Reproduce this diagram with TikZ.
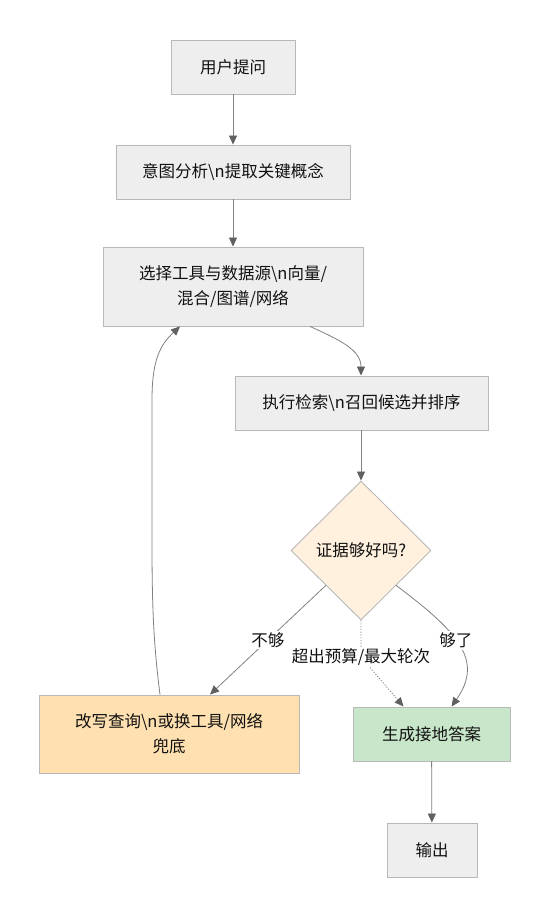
\documentclass[tikz,border=0pt]{standalone}
\usepackage{fontspec}
\setmainfont{Noto Sans CJK SC}
\usetikzlibrary{shapes.geometric,arrows.meta}
\definecolor{boxfill}{HTML}{EEEEEE}
\definecolor{boxline}{HTML}{B8B8B8}
\definecolor{diafill}{HTML}{FFF1DE}
\definecolor{rewritefill}{HTML}{FFE0B0}
\definecolor{answerfill}{HTML}{C8E6C9}
\definecolor{linegray}{HTML}{808080}
\definecolor{tipgray}{HTML}{606060}
\definecolor{txt}{HTML}{111111}
\tikzset{
  stepbox/.style={draw=boxline,fill=boxfill,line width=0.9pt,minimum height=54pt,
    inner sep=0pt,align=center,text=txt,font=\fontsize{16.5}{25}\selectfont},
  decide/.style={diamond,draw=boxline,fill=diafill,line width=0.9pt,minimum width=140pt,
    minimum height=139pt,inner sep=0pt,text=txt,font=\fontsize{16.5}{25}\selectfont},
  flow/.style={draw=linegray,line width=0.8pt,
    -{Triangle[length=9pt,width=8pt,color=tipgray]}},
  lbl/.style={fill=white,inner sep=1.5pt,text=txt,font=\fontsize{16.5}{25}\selectfont}
}
\begin{document}
\begin{tikzpicture}[x=1pt,y=-1pt]
\useasboundingbox (0,0) rectangle (550,917);
%boxes
\node[stepbox,minimum width=124pt] (ask) at (233,67) {用户提问};
\node[stepbox,minimum width=234pt] (intent) at (233,172) {意图分析\textbackslash n提取关键概念};
\node[stepbox,minimum width=260pt,minimum height=79pt] (select) at (233,286.5) {选择工具与数据源\textbackslash n向量/\\混合/图谱/网络};
\node[stepbox,minimum width=253pt] (search) at (361.5,403) {执行检索\textbackslash n召回候选并排序};
\node[decide] (check) at (361,550.5) {证据够好吗?};
\node[stepbox,fill=rewritefill,minimum width=260pt,minimum height=78pt] (rewrite) at (169,734) {改写查询\textbackslash n或换工具/网络\\兜底};
\node[stepbox,fill=answerfill,minimum width=157pt] (answer) at (431.5,734) {生成接地答案};
\node[stepbox,minimum width=90pt] (out) at (432,850) {输出};
%connectors
\draw[flow] (ask) -- (intent);
\draw[flow] (intent) -- (select);
\draw[flow] ([xshift=77pt]select.south) .. controls (340,340) and (361,350) .. (search.north -| check.north);
\draw[flow] (search.south -| check.north) -- (check.north);
\draw[flow] (check.south west) -- node[lbl]{不够} ([xshift=41pt]rewrite.north);
\draw[flow,dash pattern=on 1.2pt off 1.6pt] (check.south) -- (361,657) node[lbl]{超出预算/最大轮次} -- ([xshift=-28pt]answer.north);
\draw[flow] (check.south east) .. controls (458,632) and (484,660) .. node[lbl,pos=0.45]{够了} ([xshift=20pt]answer.north);
\draw[flow] (answer) -- (out);
\draw[flow] ([xshift=-9pt]rewrite.north) .. controls (153,640) and (152,600) .. (152,540) -- (152,400) .. controls (152,360) and (160,345) .. ([xshift=-53pt]select.south);
\end{tikzpicture}
\end{document}
